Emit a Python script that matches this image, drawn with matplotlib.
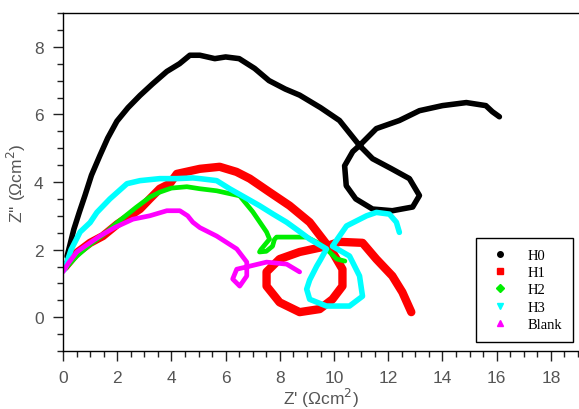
import matplotlib
matplotlib.use("Agg")
import matplotlib.pyplot as plt
from matplotlib.lines import Line2D
from matplotlib.ticker import MultipleLocator

# ---- data (Z', Z'') ----
h0_x = [0.15, 0.4, 0.6, 0.81, 1.05, 1.36, 1.65, 1.99, 2.4, 2.84, 3.3, 3.83, 4.3, 4.68, 5.05, 5.6, 6.0, 6.5, 7.07, 7.6, 8.2, 8.73, 9.5, 10.2, 10.94, 11.42, 12.1, 12.78, 13.15, 12.9, 12.15, 11.42, 10.8, 10.45, 10.39, 10.69, 10.94, 11.56, 12.41, 13.15, 14.0, 14.88, 15.6, 15.84, 16.1]
h0_y = [1.8, 2.6, 3.1, 3.6, 4.2, 4.78, 5.3, 5.8, 6.2, 6.56, 6.9, 7.27, 7.5, 7.75, 7.75, 7.65, 7.7, 7.65, 7.36, 7.0, 6.75, 6.57, 6.2, 5.82, 5.08, 4.69, 4.4, 4.1, 3.6, 3.26, 3.15, 3.2, 3.5, 3.89, 4.48, 4.9, 5.08, 5.58, 5.82, 6.11, 6.26, 6.35, 6.26, 6.08, 5.93]

h1_x = [0.07, 0.5, 1.0, 1.47, 2.0, 2.84, 3.2, 3.57, 3.94, 4.2, 5.05, 5.78, 6.4, 6.89, 7.62, 8.36, 9.1, 9.58, 9.94, 10.31, 10.31, 9.94, 9.47, 8.73, 7.99, 7.51, 7.51, 7.99, 8.73, 9.72, 10.2, 11.05, 11.56, 12.15, 12.52, 12.85]
h1_y = [1.48, 1.9, 2.2, 2.4, 2.75, 3.2, 3.5, 3.8, 3.95, 4.24, 4.39, 4.45, 4.3, 4.1, 3.7, 3.3, 2.81, 2.31, 1.93, 1.42, 0.92, 0.53, 0.24, 0.15, 0.44, 0.92, 1.34, 1.72, 1.93, 2.1, 2.23, 2.2, 1.72, 1.22, 0.74, 0.15]

h2_x = [0.1, 0.5, 1.0, 1.5, 2.0, 2.7, 3.2, 3.57, 4.0, 4.57, 5.05, 5.67, 6.52, 7.0, 7.51, 7.62, 7.3, 7.25, 7.5, 7.73, 7.8, 7.88, 8.5, 8.99, 9.4, 9.72, 10.1, 10.4]
h2_y = [1.45, 1.8, 2.15, 2.45, 2.8, 3.25, 3.55, 3.7, 3.82, 3.86, 3.8, 3.74, 3.59, 3.12, 2.52, 2.31, 2.0, 1.93, 1.95, 2.1, 2.3, 2.37, 2.37, 2.37, 2.2, 2.02, 1.72, 1.66]

h3_x = [0.05, 0.3, 0.63, 1.0, 1.25, 1.73, 2.36, 2.84, 3.57, 4.2, 4.79, 5.05, 5.67, 6.15, 6.7, 7.25, 7.75, 8.25, 8.7, 9.1, 9.72, 9.5, 9.36, 9.1, 8.99, 9.1, 9.72, 10.57, 11.05, 10.94, 10.57, 9.94, 10.46, 11.2, 11.56, 12.04, 12.3, 12.41]
h3_y = [1.4, 2.0, 2.52, 2.8, 3.1, 3.5, 3.95, 4.04, 4.1, 4.1, 4.12, 4.1, 4.04, 3.8, 3.55, 3.3, 3.05, 2.81, 2.55, 2.31, 2.02, 1.7, 1.51, 1.1, 0.83, 0.53, 0.33, 0.33, 0.62, 1.22, 1.81, 2.1, 2.7, 3.0, 3.1, 3.05, 2.81, 2.51]

blank_x = [0.0, 0.2, 0.51, 0.9, 1.36, 1.9, 2.58, 3.2, 3.83, 4.31, 4.6, 4.79, 5.05, 5.67, 6.41, 6.78, 6.78, 6.52, 6.26, 6.41, 6.89, 7.51, 8.25, 8.73]
blank_y = [1.34, 1.6, 1.93, 2.15, 2.4, 2.65, 2.9, 3.0, 3.15, 3.15, 3.0, 2.81, 2.65, 2.4, 2.02, 1.63, 1.22, 0.92, 1.13, 1.42, 1.51, 1.63, 1.57, 1.34]

labels = ["H0", "H1", "H2", "H3", "Blank"]
colors = ["#000000", "#ff0000", "#00ee00", "#00ffff", "#ff00ff"]
markers = ["o", "s", "D", "v", "^"]
widths = [4.0, 6.0, 3.4, 4.0, 3.4]

series = [(h0_x, h0_y), (h1_x, h1_y), (h2_x, h2_y), (h3_x, h3_y), (blank_x, blank_y)]

fig = plt.figure(figsize=(5.79, 4.10), dpi=100)
ax = fig.add_axes([63/579, 1-352/410, (578-63)/579, (352-14)/410])

for (xs, ys), c, w in zip(series, colors, widths):
    ax.plot(xs, ys, color=c, lw=w, solid_capstyle="round", solid_joinstyle="round")

ax.set_xlim(0, 19)
ax.set_ylim(-1, 9)
ax.xaxis.set_major_locator(MultipleLocator(2))
ax.xaxis.set_minor_locator(MultipleLocator(0.5))
ax.yaxis.set_major_locator(MultipleLocator(2))
ax.yaxis.set_minor_locator(MultipleLocator(0.5))

tickfont = "Liberation Sans"
ax.tick_params(which="major", direction="out", length=7, width=1, pad=7,
               labelsize=12.5, labelcolor="#555555", color="#222222")
ax.tick_params(which="minor", direction="out", length=4.5, width=1, color="#222222")
for lab in ax.get_xticklabels() + ax.get_yticklabels():
    lab.set_fontfamily(tickfont)
for s in ax.spines.values():
    s.set_linewidth(1)
ax.spines["right"].set_visible(False)

ax.set_xlabel("Z' (Ωcm$^2$)", fontsize=12.5, color="#555555", family=tickfont, labelpad=0)
ax.set_ylabel("Z'' (Ωcm$^2$)", fontsize=12.5, color="#555555", family=tickfont, labelpad=4)

handles = [Line2D([], [], ls="none", marker=m, color=c, markersize=4) for m, c in zip(markers, colors)]
leg = ax.legend(handles, labels, loc="lower right", bbox_to_anchor=(0.990, 0.0266),
                borderaxespad=0, frameon=True, fancybox=False, framealpha=1,
                prop={"family": "Liberation Serif", "size": 10.5},
                labelspacing=0.28, handlelength=1.8, handletextpad=1.0,
                borderpad=0.75)
leg.get_frame().set_edgecolor("black")
leg.get_frame().set_linewidth(1)

fig.savefig("out.png", dpi=100)
